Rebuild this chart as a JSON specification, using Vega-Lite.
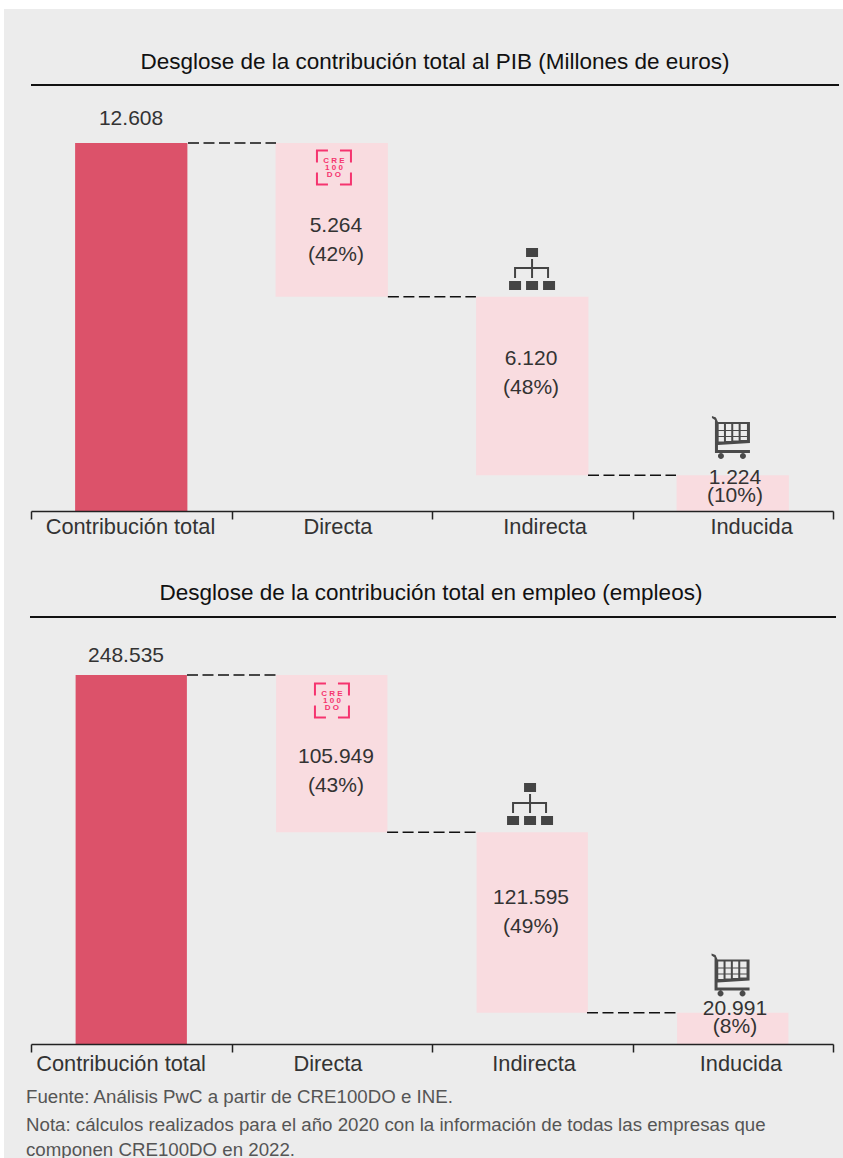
{"$schema":"https://vega.github.io/schema/vega-lite/v6.json","background":"#ffffff","padding":{"left":3,"top":8,"right":0,"bottom":0},"spacing":0,"config":{"view":{"stroke":null},"text":{"font":"Liberation Sans"}},
"vconcat":[
{"width":802,"height":426,"resolve":{"scale":{"x":"independent"}},"layer":[
{"data":{"values":[{"x0":-0.1347,"x1":4.05,"y0":-1850,"y1":17199}]},"mark":{"type":"rect","color":"#ececec"},"encoding":{"x":{"field":"x0","type":"quantitative","axis":null,"scale":{"domain":[0,4]}},"x2":{"field":"x1"},"y":{"field":"y0","type":"quantitative","axis":null,"scale":{"domain":[0,14595],"nice":false}},"y2":{"field":"y1"}}},
{"data":{"values":[{"c":"Contribución total","a":0,"b":12608,"k":"t"},{"c":"Directa","a":7344,"b":12608,"k":"p"},{"c":"Indirecta","a":1224,"b":7344,"k":"p"},{"c":"Inducida","a":0,"b":1224,"k":"p"}]},"mark":{"type":"bar","width":{"band":0.56}},"encoding":{"x":{"field":"c","type":"nominal","sort":null,"scale":{"paddingInner":0,"paddingOuter":0},"axis":{"title":null,"labels":false,"tickBand":"extent","tickSize":8,"tickColor":"#222222","domainColor":"#222222","tickWidth":1.5,"domainWidth":1.5,"zindex":1}},"y":{"field":"a","type":"quantitative"},"y2":{"field":"b"},"color":{"field":"k","type":"nominal","legend":null,"scale":{"domain":["t","p"],"range":["#dc526a","#f9dce0"]}}}},
{"data":{"values":[{"x0":0,"x1":4.03,"y":14595}]},"mark":{"type":"rule","color":"#111111","strokeWidth":2},"encoding":{"x":{"field":"x0","type":"quantitative","axis":null,"scale":{"domain":[0,4]}},"x2":{"field":"x1"},"y":{"field":"y","type":"quantitative"}}},
{"data":{"values":[{"x0":0.783,"x1":1.222,"y":12608},{"x0":1.78,"x1":2.219,"y":7344},{"x0":2.778,"x1":3.217,"y":1224}]},"mark":{"type":"rule","color":"#111111","strokeWidth":1.5,"strokeDash":[11,4.5]},"encoding":{"x":{"field":"x0","type":"quantitative","axis":null,"scale":{"domain":[0,4]}},"x2":{"field":"x1"},"y":{"field":"y","type":"quantitative"}}},
{"data":{"values":[{"x":1.511,"y":11768}]},"mark":{"type":"point","filled":true,"opacity":1,"size":4,"color":"#f5346f","shape":"M-18,-18H-6V-16H-16V-5H-18ZM18,-18V-5H16V-16H6V-18ZM-18,18V5H-16V16H-6V18ZM18,18H6V16H16V5H18Z"},"encoding":{"x":{"field":"x","type":"quantitative","axis":null,"scale":{"domain":[0,4]}},"y":{"field":"y","type":"quantitative"}}},
{"data":{"values":[{"x":1.511,"y":11991,"t":"C R E"},{"x":1.511,"y":11751,"t":"1 0 0"},{"x":1.511,"y":11511,"t":"D O"}]},"mark":{"type":"text","fontSize":8,"fontWeight":"bold","color":"#f5346f","baseline":"middle","align":"center"},"encoding":{"x":{"field":"x","type":"quantitative","axis":null,"scale":{"domain":[0,4]}},"y":{"field":"y","type":"quantitative"},"text":{"field":"t"}}},
{"data":{"values":[{"x":2.499,"y":8291}]},"mark":{"type":"point","filled":true,"opacity":1,"size":4,"color":"#444444","shape":"M-6,-21H6V-12H-6ZM-1,-10H1V-2H15.5V-2H17V9H15V0H1V9H-1V0H-16V9H-18V-2H-1ZM-23,12H-11V21H-23ZM-6,12H6V21H-6ZM11,12H23V21H11Z"},"encoding":{"x":{"field":"x","type":"quantitative","axis":null,"scale":{"domain":[0,4]}},"y":{"field":"y","type":"quantitative"}}},
{"data":{"values":[{"x":3.491,"y":2535}]},"mark":{"type":"point","filled":true,"opacity":1,"size":4,"color":"#4a4a4a","shape":"M-19,-21L-15,-19.5L-13,-15H19V6L-13,8V13H19V16H-16V-17L-19,-19ZM-12.3,-13V-7H-7V-13ZM-5,-13V-7H0.3V-13ZM2.3,-13V-7H7.7V-13ZM9.7,-13V-7H16V-13ZM-12.3,-6V-1H-7V-6ZM-5,-6V-1H0.3V-6ZM2.3,-6V-1H7.7V-6ZM9.7,-6V-1H16V-6ZM-12.3,0V4.5H-7V0ZM-5,0V4H0.3V0ZM2.3,0V3.5H7.7V0ZM9.7,0V3H16V0ZM-13,19A3,3 0 1,0 -7,19A3,3 0 1,0 -13,19ZM9,19A3,3 0 1,0 15,19A3,3 0 1,0 9,19Z"},"encoding":{"x":{"field":"x","type":"quantitative","axis":null,"scale":{"domain":[0,4]}},"y":{"field":"y","type":"quantitative"}}},
{"data":{"values":[{"x":0.499,"y":13430,"t":"12.608"},{"x":1.521,"y":9764,"t":"5.264"},{"x":1.521,"y":8771,"t":"(42%)"},{"x":2.494,"y":5208,"t":"6.120"},{"x":2.494,"y":4214,"t":"(48%)"},{"x":3.511,"y":1131,"t":"1.224"},{"x":3.511,"y":514,"t":"(10%)"}]},"mark":{"type":"text","fontSize":21,"color":"#333333","baseline":"middle","align":"center"},"encoding":{"x":{"field":"x","type":"quantitative","axis":null,"scale":{"domain":[0,4]}},"y":{"field":"y","type":"quantitative"},"text":{"field":"t"}}},
{"data":{"values":[{"x":0.496,"y":-548,"t":"Contribución total"},{"x":1.531,"y":-548,"t":"Directa"},{"x":2.564,"y":-548,"t":"Indirecta"},{"x":3.594,"y":-548,"t":"Inducida"}]},"mark":{"type":"text","fontSize":21.8,"color":"#333333","baseline":"middle","align":"center"},"encoding":{"x":{"field":"x","type":"quantitative","axis":null,"scale":{"domain":[0,4]}},"y":{"field":"y","type":"quantitative"},"text":{"field":"t"}}},
{"data":{"values":[{"x":2.015,"y":15383,"t":"Desglose de la contribución total al PIB (Millones de euros)"}]},"mark":{"type":"text","fontSize":22.5,"color":"#111111","baseline":"middle","align":"center"},"encoding":{"x":{"field":"x","type":"quantitative","axis":null,"scale":{"domain":[0,4]}},"y":{"field":"y","type":"quantitative"},"text":{"field":"t"}}}
]},
{"width":802,"height":427,"resolve":{"scale":{"x":"independent"}},"layer":[
{"data":{"values":[{"x0":-0.1347,"x1":4.05,"y0":-76779,"y1":322607}]},"mark":{"type":"rect","color":"#ececec"},"encoding":{"x":{"field":"x0","type":"quantitative","axis":null,"scale":{"domain":[0,4]}},"x2":{"field":"x1"},"y":{"field":"y0","type":"quantitative","axis":null,"scale":{"domain":[0,287585],"nice":false}},"y2":{"field":"y1"}}},
{"data":{"values":[{"c":"Contribución total","a":0,"b":248535,"k":"t"},{"c":"Directa","a":142586,"b":248535,"k":"p"},{"c":"Indirecta","a":20991,"b":142586,"k":"p"},{"c":"Inducida","a":0,"b":20991,"k":"p"}]},"mark":{"type":"bar","width":{"band":0.555}},"encoding":{"x":{"field":"c","type":"nominal","sort":null,"scale":{"paddingInner":0,"paddingOuter":0},"axis":{"title":null,"labels":false,"tickBand":"extent","tickSize":8,"tickColor":"#222222","domainColor":"#222222","tickWidth":1.5,"domainWidth":1.5,"zindex":1}},"y":{"field":"a","type":"quantitative"},"y2":{"field":"b"},"color":{"field":"k","type":"nominal","legend":null,"scale":{"domain":["t","p"],"range":["#dc526a","#f9dce0"]}}}},
{"data":{"values":[{"x0":-0.005,"x1":4.015,"y":287585}]},"mark":{"type":"rule","color":"#111111","strokeWidth":2},"encoding":{"x":{"field":"x0","type":"quantitative","axis":null,"scale":{"domain":[0,4]}},"x2":{"field":"x1"},"y":{"field":"y","type":"quantitative"}}},
{"data":{"values":[{"x0":0.778,"x1":1.222,"y":248535},{"x0":1.776,"x1":2.219,"y":142586},{"x0":2.773,"x1":3.222,"y":20991}]},"mark":{"type":"rule","color":"#111111","strokeWidth":1.5,"strokeDash":[11,4.5]},"encoding":{"x":{"field":"x0","type":"quantitative","axis":null,"scale":{"domain":[0,4]}},"x2":{"field":"x1"},"y":{"field":"y","type":"quantitative"}}},
{"data":{"values":[{"x":1.501,"y":231347}]},"mark":{"type":"point","filled":true,"opacity":1,"size":4,"color":"#f5346f","shape":"M-18,-18H-6V-16H-16V-5H-18ZM18,-18V-5H16V-16H6V-18ZM-18,18V5H-16V16H-6V18ZM18,18H6V16H16V5H18Z"},"encoding":{"x":{"field":"x","type":"quantitative","axis":null,"scale":{"domain":[0,4]}},"y":{"field":"y","type":"quantitative"}}},
{"data":{"values":[{"x":1.501,"y":235725,"t":"C R E"},{"x":1.501,"y":231011,"t":"1 0 0"},{"x":1.501,"y":226296,"t":"D O"}]},"mark":{"type":"text","fontSize":8,"fontWeight":"bold","color":"#f5346f","baseline":"middle","align":"center"},"encoding":{"x":{"field":"x","type":"quantitative","axis":null,"scale":{"domain":[0,4]}},"y":{"field":"y","type":"quantitative"},"text":{"field":"t"}}},
{"data":{"values":[{"x":2.489,"y":161640}]},"mark":{"type":"point","filled":true,"opacity":1,"size":4,"color":"#444444","shape":"M-6,-21H6V-12H-6ZM-1,-10H1V-2H15.5V-2H17V9H15V0H1V9H-1V0H-16V9H-18V-2H-1ZM-23,12H-11V21H-23ZM-6,12H6V21H-6ZM11,12H23V21H11Z"},"encoding":{"x":{"field":"x","type":"quantitative","axis":null,"scale":{"domain":[0,4]}},"y":{"field":"y","type":"quantitative"}}},
{"data":{"values":[{"x":3.489,"y":46808}]},"mark":{"type":"point","filled":true,"opacity":1,"size":4,"color":"#4a4a4a","shape":"M-19,-21L-15,-19.5L-13,-15H19V6L-13,8V13H19V16H-16V-17L-19,-19ZM-12.3,-13V-7H-7V-13ZM-5,-13V-7H0.3V-13ZM2.3,-13V-7H7.7V-13ZM9.7,-13V-7H16V-13ZM-12.3,-6V-1H-7V-6ZM-5,-6V-1H0.3V-6ZM2.3,-6V-1H7.7V-6ZM9.7,-6V-1H16V-6ZM-12.3,0V4.5H-7V0ZM-5,0V4H0.3V0ZM2.3,0V3.5H7.7V0ZM9.7,0V3H16V0ZM-13,19A3,3 0 1,0 -7,19A3,3 0 1,0 -13,19ZM9,19A3,3 0 1,0 15,19A3,3 0 1,0 9,19Z"},"encoding":{"x":{"field":"x","type":"quantitative","axis":null,"scale":{"domain":[0,4]}},"y":{"field":"y","type":"quantitative"}}},
{"data":{"values":[{"x":0.474,"y":261318,"t":"248.535"},{"x":1.521,"y":193295,"t":"105.949"},{"x":1.521,"y":173763,"t":"(43%)"},{"x":2.494,"y":98331,"t":"121.595"},{"x":2.494,"y":78800,"t":"(49%)"},{"x":3.511,"y":23573,"t":"20.991"},{"x":3.511,"y":11450,"t":"(8%)"}]},"mark":{"type":"text","fontSize":21,"color":"#333333","baseline":"middle","align":"center"},"encoding":{"x":{"field":"x","type":"quantitative","axis":null,"scale":{"domain":[0,4]}},"y":{"field":"y","type":"quantitative"},"text":{"field":"t"}}},
{"data":{"values":[{"x":0.449,"y":-13470,"t":"Contribución total"},{"x":1.481,"y":-13470,"t":"Directa"},{"x":2.509,"y":-13470,"t":"Indirecta"},{"x":3.541,"y":-13470,"t":"Inducida"}]},"mark":{"type":"text","fontSize":21.8,"color":"#333333","baseline":"middle","align":"center"},"encoding":{"x":{"field":"x","type":"quantitative","axis":null,"scale":{"domain":[0,4]}},"y":{"field":"y","type":"quantitative"},"text":{"field":"t"}}},
{"data":{"values":[{"x":1.995,"y":303749,"t":"Desglose de la contribución total en empleo (empleos)"}]},"mark":{"type":"text","fontSize":22.5,"color":"#111111","baseline":"middle","align":"center"},"encoding":{"x":{"field":"x","type":"quantitative","axis":null,"scale":{"domain":[0,4]}},"y":{"field":"y","type":"quantitative"},"text":{"field":"t"}}},
{"data":{"values":[{"x":-0.025,"y":-35696,"t":"Fuente: Análisis PwC a partir de CRE100DO e INE."},{"x":-0.025,"y":-54554,"t":"Nota: cálculos realizados para el año 2020 con la información de todas las empresas que"},{"x":-0.025,"y":-71391,"t":"componen CRE100DO en 2022."}]},"mark":{"type":"text","fontSize":18.7,"color":"#555555","baseline":"middle","align":"left"},"encoding":{"x":{"field":"x","type":"quantitative","axis":null,"scale":{"domain":[0,4]}},"y":{"field":"y","type":"quantitative"},"text":{"field":"t"}}}
]}
]}
